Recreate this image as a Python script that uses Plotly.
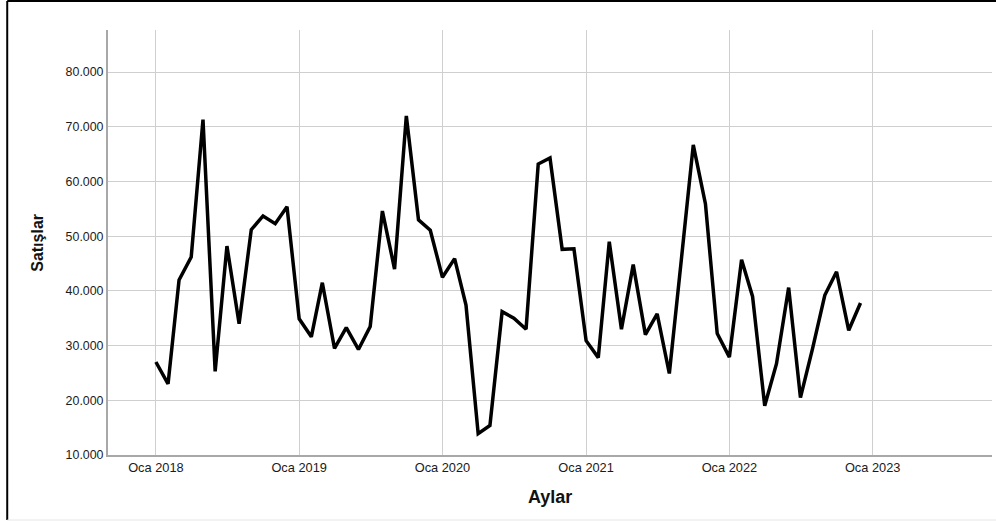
import pandas as pd
import plotly.graph_objects as go

# Monthly sales, Jan 2018 - Dec 2022
sales_2018 = [27000, 23000, 42000, 46200, 71300, 25300, 48200, 34000, 51200, 53700, 52300, 55400]
sales_2019 = [34900, 31600, 41500, 29500, 33300, 29300, 33500, 54600, 44000, 72000, 53000, 51100]
sales_2020 = [42500, 45900, 37400, 13900, 15400, 36200, 35000, 33000, 63200, 64300, 47600, 47700]
sales_2021 = [30900, 27800, 49000, 33000, 44800, 32000, 35800, 24900, 46000, 66700, 55900, 32200]
sales_2022 = [27900, 45700, 39000, 19000, 26700, 40600, 20500, 29500, 39200, 43500, 32800, 37800]
sales = sales_2018 + sales_2019 + sales_2020 + sales_2021 + sales_2022
months = pd.date_range("2018-01-01", periods=len(sales), freq="MS")

tick_dates = ["2018-01-01", "2019-01-01", "2020-01-01", "2021-01-01", "2022-01-01", "2023-01-01"]
tick_labels = ["Oca 2018", "Oca 2019", "Oca 2020", "Oca 2021", "Oca 2022", "Oca 2023"]
y_ticks = [10000, 20000, 30000, 40000, 50000, 60000, 70000, 80000]

FONT = "Arial, Liberation Sans, sans-serif"

fig = go.Figure()
fig.add_trace(go.Scatter(x=months, y=sales, mode="lines",
                         line=dict(color="black", width=3.5), showlegend=False))

fig.update_layout(
    width=996, height=521,
    margin=dict(l=108, r=4, t=30, b=66),
    paper_bgcolor="white", plot_bgcolor="white",
    separators=",.",
    font=dict(family=FONT, size=12, color="#222"),
    xaxis=dict(range=["2017-09-01", "2023-11-01"], tickvals=tick_dates, ticktext=tick_labels,
               showgrid=True, gridcolor="#cfcfcf", gridwidth=1.3,
               showline=True, linecolor="#a8a8a8", linewidth=2, ticks="", zeroline=False,
               tickfont=dict(size=12.8, color="#1a1a1a")),
    yaxis=dict(range=[10000, 87700], tickvals=y_ticks, tickformat=",d",
               showgrid=True, gridcolor="#cfcfcf", gridwidth=1.3,
               showline=True, linecolor="#a8a8a8", linewidth=2, ticks="", zeroline=False,
               tickfont=dict(size=12.4, color="#1a1a1a")),
    annotations=[
        dict(text="<b>Satışlar</b>", xref="paper", yref="paper", x=-0.080, y=0.5,
             xanchor="center", yanchor="middle", textangle=-90, showarrow=False,
             font=dict(family=FONT, size=16, color="#111")),
        dict(text="<b>Aylar</b>", xref="paper", yref="paper", x=0.5, y=-0.099,
             xanchor="center", yanchor="middle", showarrow=False,
             font=dict(family=FONT, size=18, color="#111")),
    ],
    shapes=[
        dict(type="line", xref="paper", yref="paper", x0=-0.114, x1=-0.114, y0=-0.153, y1=1.068,
             line=dict(color="black", width=2)),
        dict(type="line", xref="paper", yref="paper", x0=-0.114, x1=1.01, y0=1.068, y1=1.068,
             line=dict(color="black", width=2)),
        dict(type="line", xref="paper", yref="paper", x0=-0.114, x1=1.01, y0=-0.153, y1=-0.153,
             line=dict(color="#e6e6e6", width=1)),
    ],
)

fig.write_html("out.html", config={"displayModeBar": False},
               post_script="document.body.style.margin='0';")
